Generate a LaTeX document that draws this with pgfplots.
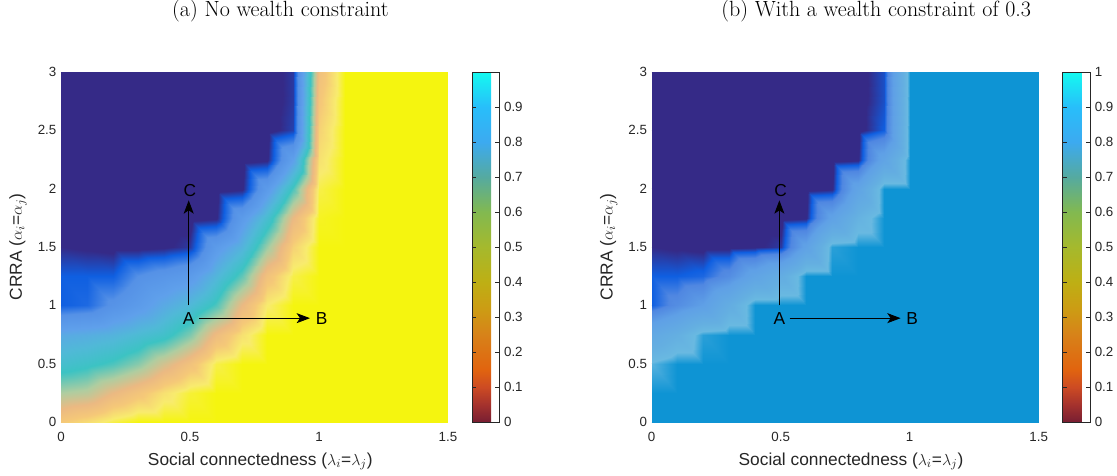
\documentclass[border=0pt]{standalone}
\usepackage{pgfplots}
\pgfplotsset{compat=1.18}
\usepackage{fontspec}
\newfontfamily\arial{Liberation Sans}
\usetikzlibrary{arrows.meta}

\tikzset{
  lbl/.style={font=\arial\fontsize{13}{15}\selectfont},
  arr/.style={black, line width=0.75pt, -{Stealth[length=10pt,width=7.5pt,inset=2.5pt]}},
}

\pgfplotsset{
  colormap={cbar}{rgb255(0pt)=(120,30,50); rgb255(5pt)=(165,50,45); rgb255(10pt)=(205,75,35);
    rgb255(15pt)=(225,100,15); rgb255(25pt)=(215,130,25); rgb255(32pt)=(205,155,20);
    rgb255(40pt)=(190,175,20); rgb255(50pt)=(165,185,45); rgb255(60pt)=(130,185,80);
    rgb255(70pt)=(85,170,160); rgb255(80pt)=(60,170,240); rgb255(90pt)=(40,190,250);
    rgb255(100pt)=(20,250,240)},
  colormap={heatA}{rgb255(0pt)=(53,42,135); rgb255(3pt)=(53,42,135); rgb255(10pt)=(15,95,225);
    rgb255(20pt)=(85,145,230); rgb255(35pt)=(95,160,235); rgb255(48pt)=(80,185,215);
    rgb255(58pt)=(60,195,195); rgb255(70pt)=(175,205,160); rgb255(80pt)=(235,185,130);
    rgb255(88pt)=(245,200,120); rgb255(95pt)=(248,235,110); rgb255(100pt)=(245,245,15)},
  colormap={heatB}{rgb255(0pt)=(53,42,135); rgb255(3pt)=(53,42,135); rgb255(10pt)=(15,95,225);
    rgb255(20pt)=(80,135,225); rgb255(40pt)=(95,160,230); rgb255(75pt)=(100,175,225);
    rgb255(90pt)=(105,185,225); rgb255(100pt)=(14,148,212)},
  /pgf/number format/assume math mode=true,
  every tick label/.append style={font=\arial\fontsize{10}{12}\selectfont, text=black!85},
  heat/.style={
    width=290.25pt, height=262.5pt, scale only axis,
    xmin=0, xmax=1.5, ymin=0, ymax=3,
    xtick={0,0.5,1,1.5}, ytick={0,0.5,1,1.5,2,2.5,3},
    axis line style={draw=none},
    tick align=inside, major tick length=3pt,
    xtick style={draw=none}, ytick style={black!85, line width=0.5pt},
    xtick pos=bottom, ytick pos=left,
    xticklabel style={anchor=base, yshift=-14.5pt},
    colormap name=cbar, point meta min=0, point meta max=1,
    xlabel={Social connectedness ($\lambda_i$=$\lambda_j$)},
    ylabel={CRRA ($\alpha_i$=$\alpha_j$)},
    label style={font=\arial\fontsize{13}{15}\selectfont, text=black!85},
    xlabel style={at={(axis description cs:0.515,-0.1229)}, anchor=base},
    ylabel style={at={(axis description cs:-0.111,0.5)}, anchor=center},
    title style={anchor=base, yshift=35.6pt, font=\fontsize{16.5}{19}\selectfont},
    colorbar,
    colorbar style={
      at={(parent axis.north east)}, anchor=north west, xshift=9.5pt,
      width=20.5pt,
      axis line style={black!85, line width=0.6pt},
      tick align=inside, major tick length=3pt,
      ytick style={black!85, line width=0.5pt},
    },
  },
}

\begin{document}
\begin{tikzpicture}
\useasboundingbox (-45.75pt,-39.75pt) rectangle (792pt,316.5pt);

\begin{axis}[heat, at={(0,0)},
  title={(a) No wealth constraint}, title style={at={(0.567,1)}},
  colorbar style={ytick={0,0.1,0.2,0.3,0.4,0.5,0.6,0.7,0.8,0.9}}]
\addplot[surf, shader=interp, mesh/cols=16, point meta=explicit, colormap name=heatA] coordinates {
(0,0)[0.88] (0.1,0)[0.92] (0.2,0)[0.97] (0.3,0)[1] (0.4,0)[1] (0.5,0)[1] (0.6,0)[1] (0.7,0)[1] (0.8,0)[1] (0.9,0)[1] (1,0)[1] (1.1,0)[1] (1.2,0)[1] (1.3,0)[1] (1.4,0)[1] (1.5,0)[1]
(0,0.25)[0.70] (0.1,0.25)[0.72] (0.2,0.25)[0.80] (0.3,0.25)[0.86] (0.4,0.25)[0.93] (0.5,0.25)[0.98] (0.6,0.25)[1] (0.7,0.25)[1] (0.8,0.25)[1] (0.9,0.25)[1] (1,0.25)[1] (1.1,0.25)[1] (1.2,0.25)[1] (1.3,0.25)[1] (1.4,0.25)[1] (1.5,0.25)[1]
(0,0.5)[0.53] (0.1,0.5)[0.56] (0.2,0.5)[0.60] (0.3,0.5)[0.66] (0.4,0.5)[0.76] (0.5,0.5)[0.85] (0.6,0.5)[0.97] (0.7,0.5)[1] (0.8,0.5)[1] (0.9,0.5)[1] (1,0.5)[1] (1.1,0.5)[1] (1.2,0.5)[1] (1.3,0.5)[1] (1.4,0.5)[1] (1.5,0.5)[1]
(0,0.75)[0.40] (0.1,0.75)[0.42] (0.2,0.75)[0.45] (0.3,0.75)[0.50] (0.4,0.75)[0.55] (0.5,0.75)[0.65] (0.6,0.75)[0.82] (0.7,0.75)[0.93] (0.8,0.75)[1] (0.9,0.75)[1] (1,0.75)[1] (1.1,0.75)[1] (1.2,0.75)[1] (1.3,0.75)[1] (1.4,0.75)[1] (1.5,0.75)[1]
(0,1)[0.10] (0.1,1)[0.12] (0.2,1)[0.22] (0.3,1)[0.30] (0.4,1)[0.40] (0.5,1)[0.48] (0.6,1)[0.60] (0.7,1)[0.80] (0.8,1)[0.95] (0.9,1)[1] (1,1)[1] (1.1,1)[1] (1.2,1)[1] (1.3,1)[1] (1.4,1)[1] (1.5,1)[1]
(0,1.25)[0.10] (0.1,1.25)[0.10] (0.2,1.25)[0.10] (0.3,1.25)[0.20] (0.4,1.25)[0.25] (0.5,1.25)[0.30] (0.6,1.25)[0.46] (0.7,1.25)[0.62] (0.8,1.25)[0.85] (0.9,1.25)[0.97] (1,1.25)[1] (1.1,1.25)[1] (1.2,1.25)[1] (1.3,1.25)[1] (1.4,1.25)[1] (1.5,1.25)[1]
(0,1.5)[0.03] (0.1,1.5)[0.02] (0.2,1.5)[0.01] (0.3,1.5)[0.01] (0.4,1.5)[0.02] (0.5,1.5)[0.05] (0.6,1.5)[0.30] (0.7,1.5)[0.45] (0.8,1.5)[0.68] (0.9,1.5)[0.90] (1,1.5)[1] (1.1,1.5)[1] (1.2,1.5)[1] (1.3,1.5)[1] (1.4,1.5)[1] (1.5,1.5)[1]
(0,1.75)[0] (0.1,1.75)[0] (0.2,1.75)[0] (0.3,1.75)[0] (0.4,1.75)[0] (0.5,1.75)[0] (0.6,1.75)[0.02] (0.7,1.75)[0.30] (0.8,1.75)[0.52] (0.9,1.75)[0.80] (1,1.75)[0.99] (1.1,1.75)[1] (1.2,1.75)[1] (1.3,1.75)[1] (1.4,1.75)[1] (1.5,1.75)[1]
(0,2)[0] (0.1,2)[0] (0.2,2)[0] (0.3,2)[0] (0.4,2)[0] (0.5,2)[0] (0.6,2)[0] (0.7,2)[0.02] (0.8,2)[0.30] (0.9,2)[0.60] (1,2)[0.97] (1.1,2)[1] (1.2,2)[1] (1.3,2)[1] (1.4,2)[1] (1.5,2)[1]
(0,2.25)[0] (0.1,2.25)[0] (0.2,2.25)[0] (0.3,2.25)[0] (0.4,2.25)[0] (0.5,2.25)[0] (0.6,2.25)[0] (0.7,2.25)[0] (0.8,2.25)[0.02] (0.9,2.25)[0.35] (1,2.25)[0.93] (1.1,2.25)[1] (1.2,2.25)[1] (1.3,2.25)[1] (1.4,2.25)[1] (1.5,2.25)[1]
(0,2.5)[0] (0.1,2.5)[0] (0.2,2.5)[0] (0.3,2.5)[0] (0.4,2.5)[0] (0.5,2.5)[0] (0.6,2.5)[0] (0.7,2.5)[0] (0.8,2.5)[0] (0.9,2.5)[0.06] (1,2.5)[0.90] (1.1,2.5)[1] (1.2,2.5)[1] (1.3,2.5)[1] (1.4,2.5)[1] (1.5,2.5)[1]
(0,2.75)[0] (0.1,2.75)[0] (0.2,2.75)[0] (0.3,2.75)[0] (0.4,2.75)[0] (0.5,2.75)[0] (0.6,2.75)[0] (0.7,2.75)[0] (0.8,2.75)[0] (0.9,2.75)[0.05] (1,2.75)[0.87] (1.1,2.75)[1] (1.2,2.75)[1] (1.3,2.75)[1] (1.4,2.75)[1] (1.5,2.75)[1]
(0,3)[0] (0.1,3)[0] (0.2,3)[0] (0.3,3)[0] (0.4,3)[0] (0.5,3)[0] (0.6,3)[0] (0.7,3)[0] (0.8,3)[0] (0.9,3)[0.05] (1,3)[0.84] (1.1,3)[1] (1.2,3)[1] (1.3,3)[1] (1.4,3)[1] (1.5,3)[1]
};
\draw[arr] (axis cs:0.495,1.0) -- (axis cs:0.495,1.9);
\draw[arr] (axis cs:0.535,0.89) -- (axis cs:0.965,0.89);
\node[lbl] at (axis cs:0.495,0.89) {A};
\node[lbl] at (axis cs:1.01,0.89) {B};
\node[lbl] at (axis cs:0.5,1.98) {C};
\end{axis}

\begin{axis}[heat, at={(443pt,0)},
  title={(b) With a wealth constraint of 0.3}, title style={at={(0.58,1)}},
  colorbar style={ytick={0,0.1,0.2,0.3,0.4,0.5,0.6,0.7,0.8,0.9,1}}]
\addplot[surf, shader=interp, mesh/cols=16, point meta=explicit, colormap name=heatB] coordinates {
(0,0)[1] (0.1,0)[1] (0.2,0)[1] (0.3,0)[1] (0.4,0)[1] (0.5,0)[1] (0.6,0)[1] (0.7,0)[1] (0.8,0)[1] (0.9,0)[1] (1,0)[1] (1.1,0)[1] (1.2,0)[1] (1.3,0)[1] (1.4,0)[1] (1.5,0)[1]
(0,0.25)[1] (0.1,0.25)[1] (0.2,0.25)[1] (0.3,0.25)[1] (0.4,0.25)[1] (0.5,0.25)[1] (0.6,0.25)[1] (0.7,0.25)[1] (0.8,0.25)[1] (0.9,0.25)[1] (1,0.25)[1] (1.1,0.25)[1] (1.2,0.25)[1] (1.3,0.25)[1] (1.4,0.25)[1] (1.5,0.25)[1]
(0,0.5)[0.92] (0.1,0.5)[1] (0.2,0.5)[1] (0.3,0.5)[1] (0.4,0.5)[1] (0.5,0.5)[1] (0.6,0.5)[1] (0.7,0.5)[1] (0.8,0.5)[1] (0.9,0.5)[1] (1,0.5)[1] (1.1,0.5)[1] (1.2,0.5)[1] (1.3,0.5)[1] (1.4,0.5)[1] (1.5,0.5)[1]
(0,0.75)[0.60] (0.1,0.75)[0.75] (0.2,0.75)[0.97] (0.3,0.75)[1] (0.4,0.75)[1] (0.5,0.75)[1] (0.6,0.75)[1] (0.7,0.75)[1] (0.8,0.75)[1] (0.9,0.75)[1] (1,0.75)[1] (1.1,0.75)[1] (1.2,0.75)[1] (1.3,0.75)[1] (1.4,0.75)[1] (1.5,0.75)[1]
(0,1)[0.10] (0.1,1)[0.25] (0.2,1)[0.40] (0.3,1)[0.70] (0.4,1)[1] (0.5,1)[1] (0.6,1)[1] (0.7,1)[1] (0.8,1)[1] (0.9,1)[1] (1,1)[1] (1.1,1)[1] (1.2,1)[1] (1.3,1)[1] (1.4,1)[1] (1.5,1)[1]
(0,1.25)[0.10] (0.1,1.25)[0.10] (0.2,1.25)[0.12] (0.3,1.25)[0.25] (0.4,1.25)[0.50] (0.5,1.25)[0.70] (0.6,1.25)[1] (0.7,1.25)[1] (0.8,1.25)[1] (0.9,1.25)[1] (1,1.25)[1] (1.1,1.25)[1] (1.2,1.25)[1] (1.3,1.25)[1] (1.4,1.25)[1] (1.5,1.25)[1]
(0,1.5)[0.03] (0.1,1.5)[0.02] (0.2,1.5)[0.01] (0.3,1.5)[0.01] (0.4,1.5)[0.02] (0.5,1.5)[0.05] (0.6,1.5)[0.45] (0.7,1.5)[0.97] (0.8,1.5)[1] (0.9,1.5)[1] (1,1.5)[1] (1.1,1.5)[1] (1.2,1.5)[1] (1.3,1.5)[1] (1.4,1.5)[1] (1.5,1.5)[1]
(0,1.75)[0] (0.1,1.75)[0] (0.2,1.75)[0] (0.3,1.75)[0] (0.4,1.75)[0] (0.5,1.75)[0] (0.6,1.75)[0.02] (0.7,1.75)[0.45] (0.8,1.75)[0.80] (0.9,1.75)[1] (1,1.75)[1] (1.1,1.75)[1] (1.2,1.75)[1] (1.3,1.75)[1] (1.4,1.75)[1] (1.5,1.75)[1]
(0,2)[0] (0.1,2)[0] (0.2,2)[0] (0.3,2)[0] (0.4,2)[0] (0.5,2)[0] (0.6,2)[0] (0.7,2)[0.02] (0.8,2)[0.50] (0.9,2)[1] (1,2)[1] (1.1,2)[1] (1.2,2)[1] (1.3,2)[1] (1.4,2)[1] (1.5,2)[1]
(0,2.25)[0] (0.1,2.25)[0] (0.2,2.25)[0] (0.3,2.25)[0] (0.4,2.25)[0] (0.5,2.25)[0] (0.6,2.25)[0] (0.7,2.25)[0] (0.8,2.25)[0.02] (0.9,2.25)[0.50] (1,2.25)[1] (1.1,2.25)[1] (1.2,2.25)[1] (1.3,2.25)[1] (1.4,2.25)[1] (1.5,2.25)[1]
(0,2.5)[0] (0.1,2.5)[0] (0.2,2.5)[0] (0.3,2.5)[0] (0.4,2.5)[0] (0.5,2.5)[0] (0.6,2.5)[0] (0.7,2.5)[0] (0.8,2.5)[0] (0.9,2.5)[0.10] (1,2.5)[1] (1.1,2.5)[1] (1.2,2.5)[1] (1.3,2.5)[1] (1.4,2.5)[1] (1.5,2.5)[1]
(0,2.75)[0] (0.1,2.75)[0] (0.2,2.75)[0] (0.3,2.75)[0] (0.4,2.75)[0] (0.5,2.75)[0] (0.6,2.75)[0] (0.7,2.75)[0] (0.8,2.75)[0] (0.9,2.75)[0.08] (1,2.75)[1] (1.1,2.75)[1] (1.2,2.75)[1] (1.3,2.75)[1] (1.4,2.75)[1] (1.5,2.75)[1]
(0,3)[0] (0.1,3)[0] (0.2,3)[0] (0.3,3)[0] (0.4,3)[0] (0.5,3)[0] (0.6,3)[0] (0.7,3)[0] (0.8,3)[0] (0.9,3)[0.08] (1,3)[1] (1.1,3)[1] (1.2,3)[1] (1.3,3)[1] (1.4,3)[1] (1.5,3)[1]
};
\draw[arr] (axis cs:0.495,1.0) -- (axis cs:0.495,1.9);
\draw[arr] (axis cs:0.535,0.89) -- (axis cs:0.965,0.89);
\node[lbl] at (axis cs:0.495,0.89) {A};
\node[lbl] at (axis cs:1.01,0.89) {B};
\node[lbl] at (axis cs:0.5,1.98) {C};
\end{axis}
\end{tikzpicture}
\end{document}
